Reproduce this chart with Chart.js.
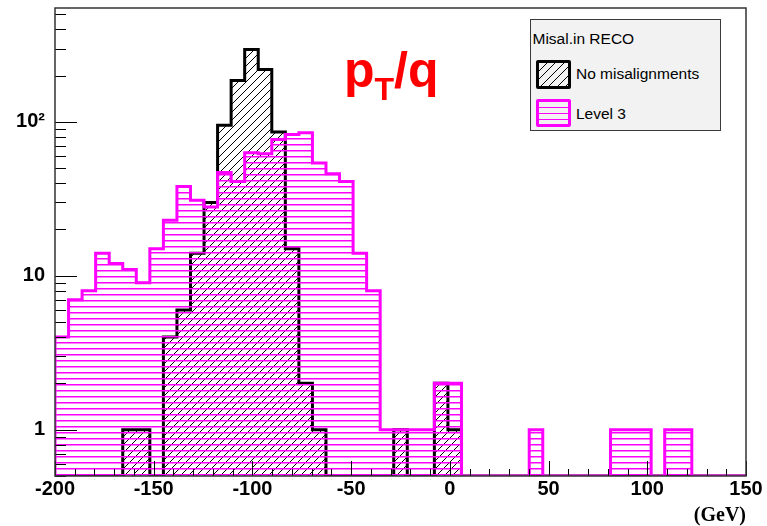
<!DOCTYPE html>
<html>
<head>
<meta charset="utf-8">
<script src="https://cdn.jsdelivr.net/npm/chart.js@4.4.1/dist/chart.umd.min.js"></script>
<style>
  body { margin: 0; background: #fff; }
  #wrap { position: relative; width: 767px; height: 526px; font-family: "Liberation Sans", Arial, sans-serif; }
  canvas { position: absolute; left: 0; top: 0; }
  .title { position: absolute; left: 344px; top: 45px; color: #ff0000; font-weight: bold; font-size: 50px; line-height: 50px; white-space: nowrap; }
  .title .sub { font-size: 32px; position: relative; top: 13px; }
  .legend { position: absolute; left: 530px; top: 19px; width: 191px; height: 112px; box-sizing: border-box; border: 1.5px solid #3a3a3a; background: #f2f2f2; }
  .legend .txt { position: absolute; font-size: 15.5px; line-height: 15.5px; white-space: nowrap; color: #000; }
  .legend .sw { position: absolute; left: 4.5px; width: 35px; box-sizing: border-box; border-radius: 2px; }
  .sw.black { top: 39.5px; height: 29px; border: 3px solid #000;
    background: repeating-linear-gradient(135deg, transparent 0 5px, #000 5px 6px); }
  .sw.mag { top: 78.5px; height: 28px; border: 3px solid #ff00ff;
    background: repeating-linear-gradient(180deg, transparent 0 4.5px, #ff00ff 4.5px 6px); }
</style>
</head>
<body>
<div id="wrap">
  <canvas id="ptq" width="767" height="526"></canvas>
  <div class="title">p<span class="sub">T</span>/q</div>
  <div class="legend">
    <div class="txt" style="left:1.5px; top:11.4px">Misal.in RECO</div>
    <div class="sw black"></div>
    <div class="txt" style="left:45px; top:46.4px">No misalignments</div>
    <div class="sw mag"></div>
    <div class="txt" style="left:45px; top:85.9px">Level 3</div>
  </div>
</div>
<script>
// Histogram binning (51 bins between -200 and 150 GeV)
const xMin = -200;
const xMax = 150;
const nBins = 51;

// Bin contents (0 = empty bin)
const noMisalign = [
  0, 0, 0, 0, 0, 1, 1, 0, 4, 6,
  14, 30, 95, 186, 296, 219, 86, 15, 2, 1,
  0, 0, 0, 0, 0, 1, 0, 0, 2, 1,
  0, 0, 0, 0, 0, 0, 0, 0, 0, 0,
  0, 0, 0, 0, 0, 0, 0, 0, 0, 0,
  0,
];
const level3 = [
  4, 7, 8, 14, 12, 11, 9, 15, 23, 38,
  31, 28, 47, 41, 63, 62, 77, 83, 85, 54,
  46, 41, 14, 8, 1, 1, 1, 1, 2, 2,
  0, 0, 0, 0, 0, 1, 0, 0, 0, 0,
  0, 1, 1, 1, 0, 1, 1, 0, 0, 0,
  0,
];

// Axis ticks
const xTicks = [-200, -150, -100, -50, 0, 50, 100, 150];
const yTicks = [1, 10, 100];
const yTickLabels = ["1", "10", "10\u00B2"];
const yMin = 0.5;
const yMax = 550;

// Turn bin contents into step points along the bin edges
function histPoints(values) {
  const w = (xMax - xMin) / nBins;
  const pts = [{ x: xMin, y: yMin }];
  values.forEach((v, i) => {
    pts.push({ x: xMin + i * w, y: v > 0 ? v : yMin });
    pts.push({ x: xMin + (i + 1) * w, y: v > 0 ? v : yMin });
  });
  pts.push({ x: xMax, y: yMin });
  return pts;
}

// Hatch fills like ROOT's fill styles
function makeHatch(kind, color) {
  const c = document.createElement("canvas");
  const ctx = c.getContext("2d");
  if (kind === "diag") {
    c.width = 8;
    c.height = 8;
    ctx.strokeStyle = color;
    ctx.lineWidth = 1;
    ctx.beginPath();
    ctx.moveTo(0, 8);
    ctx.lineTo(8, 0);
    ctx.moveTo(-1, 1);
    ctx.lineTo(1, -1);
    ctx.moveTo(7, 9);
    ctx.lineTo(9, 7);
    ctx.stroke();
  } else {
    c.width = 6;
    c.height = 6;
    ctx.fillStyle = color;
    ctx.fillRect(0, 0, 6, 1.5);
  }
  return ctx.createPattern(c, "repeat");
}

// Ticks inside the frame plus the frame itself
const rootAxes = {
  id: "rootAxes",
  afterDraw(chart) {
    const { ctx, chartArea: a } = chart;
    const xs = chart.scales.x;
    const ys = chart.scales.y;
    ctx.save();
    ctx.strokeStyle = "#000";
    ctx.lineWidth = 1;
    ctx.beginPath();
    for (let v = xMin; v <= xMax; v += 10) {
      const px = Math.round(xs.getPixelForValue(v)) + 0.5;
      const len = v % 50 === 0 ? 15 : 7;
      ctx.moveTo(px, a.bottom);
      ctx.lineTo(px, a.bottom - len);
    }
    [0.1, 1, 10, 100].forEach((d) => {
      for (let m = 1; m <= 9; m++) {
        const v = m * d;
        if (v < yMin || v > yMax) continue;
        const py = Math.round(ys.getPixelForValue(v)) + 0.5;
        ctx.moveTo(a.left, py);
        ctx.lineTo(a.left + (m === 1 ? 22 : 11), py);
      }
    });
    ctx.stroke();
    ctx.strokeStyle = "#333";
    ctx.lineWidth = 1.5;
    ctx.strokeRect(a.left, a.top, a.right - a.left, a.bottom - a.top);
    ctx.restore();
  },
};

const tickFont = { family: "Liberation Sans", weight: "bold", size: 20 };

new Chart(document.getElementById("ptq"), {
  type: "line",
  data: {
    datasets: [
      {
        label: "No misalignments",
        data: histPoints(noMisalign),
        borderColor: "#000",
        backgroundColor: makeHatch("diag", "#000"),
        fill: "start",
        order: 2,
      },
      {
        label: "Level 3",
        data: histPoints(level3),
        borderColor: "#ff00ff",
        backgroundColor: makeHatch("horiz", "#ff00ff"),
        fill: "start",
        order: 1,
      },
    ],
  },
  options: {
    responsive: false,
    animation: false,
    layout: { padding: { top: 8, right: 21, left: 0, bottom: 0 } },
    elements: {
      point: { radius: 0 },
      line: { borderWidth: 3, tension: 0, borderJoinStyle: "miter" },
    },
    plugins: { legend: { display: false }, tooltip: { enabled: false } },
    scales: {
      x: {
        type: "linear",
        min: xMin,
        max: xMax,
        grid: { display: false, drawTicks: false },
        border: { display: false },
        afterBuildTicks: (s) => {
          s.ticks = xTicks.map((v) => ({ value: v }));
        },
        afterFit: (s) => {
          s.height = 50;
        },
        ticks: {
          autoSkip: false,
          maxRotation: 0,
          padding: 1,
          color: "#000",
          font: tickFont,
          callback: (v) => String(v),
        },
        title: {
          display: true,
          text: "(GeV)",
          align: "end",
          color: "#000",
          padding: 0,
          font: { family: "Liberation Serif", weight: "bold", size: 20, lineHeight: 1 },
        },
      },
      y: {
        type: "logarithmic",
        min: yMin,
        max: yMax,
        grid: { display: false, drawTicks: false },
        border: { display: false },
        afterBuildTicks: (s) => {
          s.ticks = yTicks.map((v) => ({ value: v }));
        },
        afterFit: (s) => {
          s.width = 55;
          // labels sit well inside the axis, no extra room above/below
          s.paddingTop = 0;
          s.paddingBottom = 0;
        },
        ticks: {
          autoSkip: false,
          padding: 10,
          color: "#000",
          font: tickFont,
          callback: (v) => yTickLabels[yTicks.indexOf(v)],
        },
      },
    },
  },
  plugins: [rootAxes],
});
</script>
</body>
</html>
